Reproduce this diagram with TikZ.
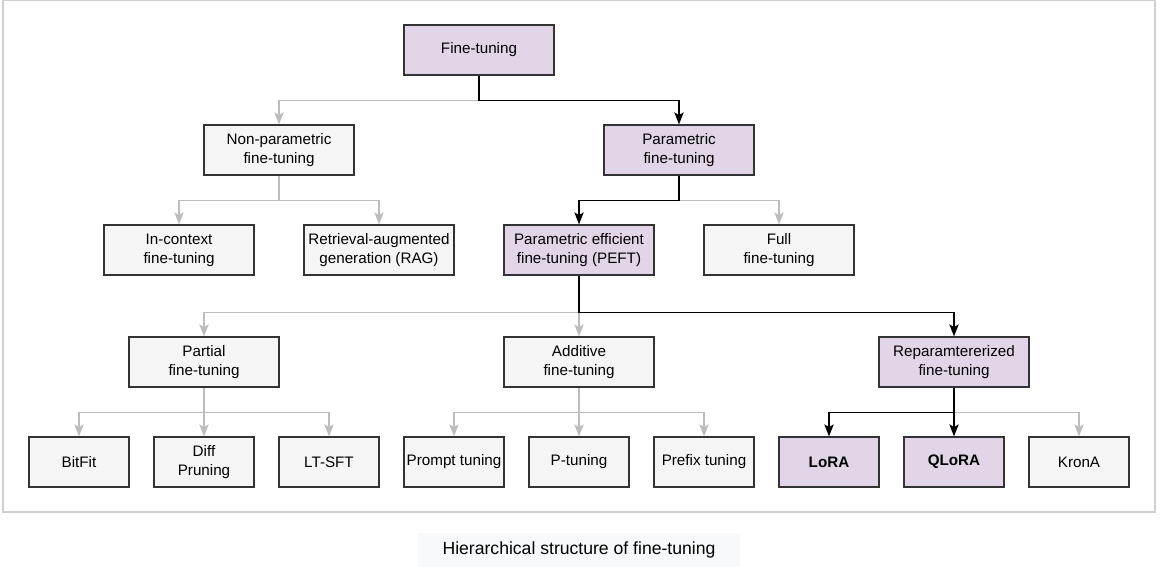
\documentclass[tikz,border=0pt]{standalone}
\usepackage{fontspec}
\setmainfont{Liberation Sans}
\usetikzlibrary{arrows.meta}
\definecolor{lilac}{HTML}{E1D5E7}
\definecolor{paper}{HTML}{F5F5F5}
\definecolor{edge}{HTML}{333333}
\definecolor{dim}{HTML}{BDBDBD}
\definecolor{frame}{HTML}{D0D0D0}
\definecolor{capbg}{HTML}{F8F9FA}
\begin{document}
\begin{tikzpicture}[x=0.75pt,y=-0.75pt]
\tikzstyle{every node}+=[font=\fontsize{11.4}{14.3}\selectfont,align=center,inner sep=0pt]
\tikzstyle{box}=[draw=edge,line width=0.9pt,fill=paper,minimum width=112.5pt,minimum height=37.5pt]
\tikzstyle{leaf}=[box,minimum width=75pt]
\tikzstyle{hot}=[fill=lilac]
\tikzstyle{link}=[dim,line width=1pt,-{Stealth[length=9pt,width=7pt,inset=2pt]}]
\tikzstyle{path}=[link,black]
\useasboundingbox (0,0) rectangle (1161,567);
\draw [frame,line width=0.8pt] (3,0) rectangle (1155,512);
% boxes
\node [box,hot] (ft) at (479,50) {Fine-tuning};
\node [box] (np) at (279,150) {Non-parametric\\fine-tuning};
\node [box,hot] (pa) at (679,150) {Parametric\\fine-tuning};
\node [box] (ic) at (179,250) {In-context\\fine-tuning};
\node [box] (rag) at (379,250) {Retrieval-augmented\\generation (RAG)};
\node [box,hot] (peft) at (579,250) {Parametric efficient\\fine-tuning (PEFT)};
\node [box] (full) at (779,250) {Full\\fine-tuning};
\node [box] (part) at (204,362) {Partial\\fine-tuning};
\node [box] (add) at (579,362) {Additive\\fine-tuning};
\node [box,hot] (rep) at (954,362) {Reparamtererized\\fine-tuning};
\node [leaf] (bit) at (79,462) {BitFit};
\node [leaf] (diff) at (204,462) {Diff\\Pruning};
\node [leaf] (lt) at (329,462) {LT-SFT};
\node [leaf] (pro) at (454,462) {Prompt tuning};
\node [leaf] (pt) at (579,462) {P-tuning};
\node [leaf] (pre) at (704,462) {Prefix tuning};
\node [leaf,hot] (lora) at (829,462) {\bfseries LoRA};
\node [leaf,hot] (qlora) at (954,462) {\bfseries QLoRA};
\node [leaf] (kron) at (1079,462) {KronA};
% grey branches
\draw [link] (ft.south) -- ++(0,25) -| (np.north);
\draw [link] (np.south) -- ++(0,25) -| (ic.north);
\draw [link] (np.south) -- ++(0,25) -| (rag.north);
\draw [link] (pa.south) -- ++(0,25) -| (full.north);
\draw [link] (peft.south) -- ++(0,37) -| (part.north);
\draw [link] (peft.south) -- (add.north);
\draw [link] (part.south) -- ++(0,25) -| (bit.north);
\draw [link] (part.south) -- (diff.north);
\draw [link] (part.south) -- ++(0,25) -| (lt.north);
\draw [link] (add.south) -- ++(0,25) -| (pro.north);
\draw [link] (add.south) -- (pt.north);
\draw [link] (add.south) -- ++(0,25) -| (pre.north);
\draw [link] (rep.south) -- ++(0,25) -| (kron.north);
% black path
\draw [path] (ft.south) -- ++(0,25) -| (pa.north);
\draw [path] (pa.south) -- ++(0,25) -| (peft.north);
\draw [path] (peft.south) -- ++(0,37) -| (rep.north);
\draw [path] (rep.south) -- ++(0,25) -| (lora.north);
\draw [path] (rep.south) -- (qlora.north);
% caption
\node [fill=capbg,minimum width=241.5pt,minimum height=25.5pt,font=\fontsize{13.2}{15}\selectfont] (cap) at (579,550) {Hierarchical structure of fine-tuning};
\end{tikzpicture}
\end{document}
